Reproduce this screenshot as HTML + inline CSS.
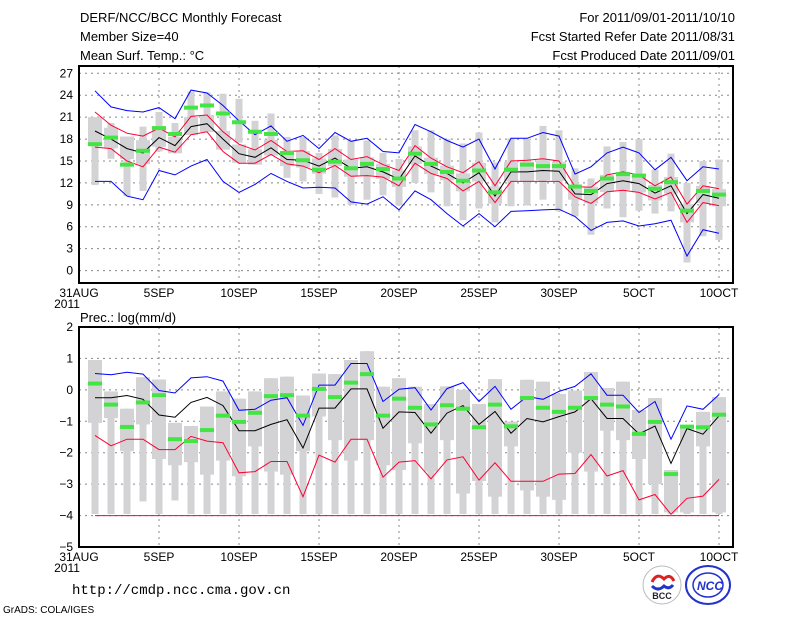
<!DOCTYPE html>
<html><head><meta charset="utf-8"><style>
html,body{margin:0;padding:0;background:#fff;width:800px;height:618px;overflow:hidden}
svg{display:block;font-family:"Liberation Sans",sans-serif}
</style></head><body>
<svg id="c" width="800" height="618" xmlns="http://www.w3.org/2000/svg">
<g font-size="13" fill="#000">
<text x="80" y="22">DERF/NCC/BCC Monthly Forecast</text>
<text x="80" y="41">Member Size=40</text>
<text x="80" y="60">Mean Surf. Temp.: °C</text>
<text x="735" y="22" text-anchor="end">For 2011/09/01-2011/10/10</text>
<text x="735" y="41" text-anchor="end">Fcst Started Refer Date 2011/08/31</text>
<text x="735" y="60" text-anchor="end">Fcst Produced Date 2011/09/01</text>
<text x="80" y="322">Prec.: log(mm/d)</text>
</g>
<text x="72" y="594" font-size="14" font-family="Liberation Mono, monospace">http://cmdp.ncc.cma.gov.cn</text>
<text x="3" y="613" font-size="10">GrADS: COLA/IGES</text>
<g>
<circle cx="662" cy="585" r="19" fill="#fff" stroke="#bbb"/>
<path d="M652 582 q5 -10 12 -3 q6 -6 10 2" stroke="#d22" stroke-width="3" fill="none"/>
<path d="M652 586 q6 6 12 0 q5 4 9 -1" stroke="#23c" stroke-width="3" fill="none"/>
<text x="662" y="599" font-size="9" font-weight="bold" text-anchor="middle" fill="#223">BCC</text>
</g>
<g>
<ellipse cx="708" cy="585" rx="22" ry="19" fill="#fff" stroke="#23c" stroke-width="2"/>
<ellipse cx="708" cy="585" rx="15" ry="12" fill="none" stroke="#23c" stroke-width="1.5"/>
<text x="710" y="590" font-size="12" font-weight="bold" font-style="italic" text-anchor="middle" fill="#23c">NCC</text>
</g>
</svg>
<script>
// ---- Temperature panel data (days 1..40 = 1SEP..10OCT)
const tMean=[19.1,18,16.7,16.1,18.2,17.1,19.7,20.1,18,16,15.5,16.8,15.2,15.1,14.3,15.4,14,14.2,13.5,12.5,15.7,14.3,13.3,12,13.4,10.2,13.5,13.5,13.7,13.6,10.5,10.4,11.9,12.3,11.9,10.6,11.6,7.8,10.4,9.9];
const tRedHi=[21.7,19.9,18.8,18.4,19.5,18.3,21.1,21.3,19,17.3,16.5,17.8,16.3,16.4,15.2,16.7,15.2,15.6,14.5,13.7,17.1,15.4,14.2,13.4,14.9,11.6,15,15.1,15.3,15,11.5,11.4,13.1,13.5,13.1,11.6,12.8,9.1,11.6,11.2];
const tRedLo=[16.9,16.7,15,14.2,16.9,16.2,18.6,19,16.3,14.7,14.7,15.9,14.6,14.3,13.4,14.4,12.9,13,12.8,11.6,14.7,13.3,12.6,10.9,12.2,9.3,12.2,12.2,12.2,12.2,10.1,9.2,10.8,11,10.7,9.8,10.7,6.6,9.3,8.9];
const tBlueHi=[24.6,22.4,21.9,21.7,22.3,20.8,24.7,24.3,22.6,20.5,18.6,19.8,17.7,18.5,16.7,18.9,17.7,18.1,16.3,16.1,20,19,17.8,16.9,18,13.9,18.1,18.1,18.9,18.4,13.2,14.2,16.1,16.9,16.1,13.8,15.5,12.3,14.2,13.9];
const tBlueLo=[12.2,12.2,10.2,9.7,13.7,13.1,14.3,15.2,12.2,10.7,11.8,13.3,12.2,11.3,11.4,11.3,9.4,9.1,10.1,8.3,10.9,9.7,7.8,6.1,7.8,6,8.1,8.2,8.3,8.4,7.4,5.5,6.6,6.8,6.1,6.4,6.9,2,5.6,5.1];
const tObs=[17.3,18.2,14.5,16.4,19.5,18.7,22.3,22.6,21.5,20.3,19,18.7,16.1,15.1,13.8,14.9,14,14.6,13.9,12.6,16,14.6,13.5,12.3,13.7,10.7,13.8,14.5,14.3,14.3,11.5,10.9,12.6,13.2,13,11.2,12.1,8.2,10.9,10.4];
const tMax=[20.3,20.2,18.1,19.7,21.7,20.2,24.5,24.4,24.2,23.5,20.5,21.5,18.3,18.3,16.1,18.5,17.8,17.8,16.1,15.3,19.2,19.2,18,17.4,18.9,14.8,18.1,18.1,19.8,19.2,14,12.6,17,17.6,18,13.8,16,12,15,15.2];
const tMin=[11.7,15.3,10.2,10.9,16.3,16.4,19.5,19.5,17.6,17.5,14.5,16.3,12.7,12.2,10.5,10,9,9.7,10.3,8.9,12,10.7,8.8,6.9,8.5,6.6,8.8,8.9,9.7,8.1,7.4,4.9,8.5,7.3,8.2,7.8,8.1,1.1,4.7,4.2];
const tTicks=[0,3,6,9,12,15,18,21,24,27];
// ---- Precipitation panel data
const pMean=[-0.25,-0.25,-0.18,-0.3,-0.8,-0.87,-0.4,-0.24,-0.5,-1.3,-1.3,-1.1,-0.95,-1.85,-0.58,-0.58,0.03,0.03,-1.22,-0.7,-0.72,-1.38,-0.74,-0.5,-1.1,-0.69,-1.38,-0.91,-1.02,-0.85,-0.7,-0.28,-0.91,-0.91,-1.4,-1.15,-2.34,-1.23,-1.41,-0.83];
const pBlue=[0.52,0.48,0.56,0.5,-0.02,-0.1,0.38,0.42,0.28,-0.65,-0.62,-0.33,-0.25,-1.13,0.15,0.15,0.84,0.84,-0.37,0.02,0.07,-0.64,0.04,0.23,-0.37,0.11,-0.62,-0.21,-0.3,-0.05,0.11,0.51,-0.17,-0.17,-0.72,-0.37,-1.57,-0.51,-0.62,-0.15];
const pRed=[-1.45,-1.78,-1.57,-1.57,-1.9,-1.9,-1.48,-1.63,-1.68,-2.64,-2.6,-2.28,-2.28,-3.4,-2.08,-2.3,-1.57,-1.57,-2.78,-2.3,-2.25,-2.83,-2.23,-2.13,-2.87,-2.32,-2.91,-2.91,-2.91,-2.68,-2.66,-2.06,-2.74,-2.57,-3.5,-3.33,-3.96,-3.45,-3.38,-2.85];
const pRedLo=[-4,-4,-4,-4,-4,-4,-4,-4,-4,-4,-4,-4,-4,-4,-4,-4,-4,-4,-4,-4,-4,-4,-4,-4,-4,-4,-4,-4,-4,-4,-4,-4,-4,-4,-4,-4,-4,-4,-4,-4];
const pObs=[0.2,-0.47,-1.18,-0.4,-0.17,-1.57,-1.63,-1.28,-0.82,-1.02,-0.73,-0.2,-0.17,-0.82,0.03,-0.23,0.23,0.5,-0.82,-0.28,-0.57,-1.1,-0.49,-0.6,-1.19,-0.47,-1.16,-0.26,-0.57,-0.7,-0.57,-0.26,-0.47,-0.53,-1.4,-1.02,-2.68,-1.17,-1.19,-0.79];
const pMax=[0.95,-0.05,-0.6,0.4,0.33,-1.05,-1.15,-0.53,-0.05,-0.28,-0.05,0.37,0.42,-0.18,0.52,0.5,0.95,1.23,0.1,0.37,0.1,-0.45,0.11,0,-0.45,0.34,-1.01,0.32,0.26,-0.13,-0.02,0.57,0.06,0.26,-0.64,-0.26,-2.55,-1.16,-0.7,-0.23];
const pQ1=[-1.05,-0.9,-1.95,-1.1,-2.2,-2.4,-2.3,-2.7,-2.25,-2.75,-1.8,-2.6,-2.7,-1.95,-0.85,-1.6,-2.25,-1.6,-2.4,-2.55,-1.7,-2.6,-1.6,-3.3,-2.9,-3.4,-1.8,-3.2,-3.4,-3.5,-2,-2.6,-1.3,-1.6,-2.2,-3,-3.9,-3.9,-1.8,-3.9];
const pMin=[-3.95,-3.95,-3.95,-3.55,-3.95,-3.52,-3.95,-3.95,-3.95,-3.95,-3.95,-3.95,-3.95,-3.95,-3.95,-3.95,-3.95,-3.95,-3.95,-3.95,-3.95,-3.95,-3.95,-3.95,-3.95,-3.95,-3.95,-3.95,-3.95,-3.95,-3.95,-3.95,-3.95,-3.95,-3.95,-3.95,-3.95,-3.95,-3.95,-3.95];
const pTicks=[-5,-4,-3,-2,-1,0,1,2];
const xTickDays=[0,5,10,15,20,25,30,35,40];
const xTickLabels=["31AUG","5SEP","10SEP","15SEP","20SEP","25SEP","30SEP","5OCT","10OCT"];

const NS="http://www.w3.org/2000/svg";
const svg=document.getElementById('c');
function mk(tag,attrs,parent){const e=document.createElementNS(NS,tag);for(const k in attrs)e.setAttribute(k,attrs[k]);(parent||svg).appendChild(e);return e;}
const X0=79,X1=733,DX=16;
function xs(d){return X0+d*DX;}

function panel(name,top,bottom,vmin,vmax,ticks){
  const g=mk('g',{});
  
  
  const ys=v=>bottom-(v-vmin)/(vmax-vmin)*(bottom-top);
  ticks.forEach(t=>{
    const yy=ys(t);
    if(yy>top+1&&yy<bottom-1){const l=mk('line',{x1:X0,x2:X1,y1:yy,y2:yy,stroke:'#888','stroke-dasharray':'2,4','stroke-width':1},g);
    
    }
    const tx=mk('text',{x:X0-6,y:yy+4,'font-size':12,'text-anchor':'end'},g);
    
    
    tx.textContent=String(t).replace('-','\u2212');
  });
  xTickDays.forEach((d,i)=>{
    const xx=xs(d);
    if(d>0){const l=mk('line',{x1:xx,x2:xx,y1:top,y2:bottom,stroke:'#888','stroke-dasharray':'2,4','stroke-width':1},g);
    
    }
    const tx=mk('text',{x:xx,y:bottom+14,'font-size':12,'text-anchor':'middle'},g);
    
    
    tx.textContent=xTickLabels[i];
  });
  const yr=mk('text',{x:xs(0)-12,y:bottom+25,'font-size':12,'text-anchor':'middle'},g);
  
  
  yr.textContent='2011';
  return {g,ys};
}
function boxes(p,hi,lo,q3,q1,name){
  for(let i=0;i<hi.length;i++){
    const x=xs(i+1);
    const r=mk('rect',{x:x-3.5,y:p.ys(hi[i]),width:7,height:Math.max(0,p.ys(lo[i])-p.ys(hi[i])),fill:'#d3d3d6'},p.g);
    
    
    const a=Math.max(q3[i],q1[i]),b=Math.min(q3[i],q1[i]);
    const w=mk('rect',{x:x-7,y:p.ys(a),width:14,height:Math.max(0,p.ys(b)-p.ys(a)),fill:'#d3d3d6'},p.g);
    
    
  }
}
function line(p,arr,color,name){
  const pts=arr.map((v,i)=>xs(i+1)+','+p.ys(v).toFixed(1)).join(' ');
  const l=mk('polyline',{points:pts,fill:'none',stroke:color,'stroke-width':1},p.g);
  
  
}
function obs(p,arr,name){
  arr.forEach((v,i)=>{
    const r=mk('rect',{x:xs(i+1)-7,y:p.ys(v)-2,width:14,height:4,fill:'#44e444'},p.g);
    
    
  });
}
function frame(p,top,bottom){
  const r=mk('rect',{x:X0,y:top,width:X1-X0,height:bottom-top,fill:'none',stroke:'#000','stroke-width':2},p.g);
  
  
}

// Temperature
const T=panel('temperature-panel',66,283,-1.7,28,tTicks);
boxes(T,tMax,tMin,tRedHi.map((v,i)=>(v+tMean[i])/2+0.6),tRedLo.map((v,i)=>(v+tMean[i])/2-0.6),'temp');
line(T,tBlueHi,'#0000ff','temp-max-line');
line(T,tBlueLo,'#0000ff','temp-min-line');
line(T,tRedHi,'#ff0033','temp-upper-line');
line(T,tRedLo,'#ff0033','temp-lower-line');
line(T,tMean,'#000','temp-ensemble-mean');
obs(T,tObs,'temp-observed-bar');
frame(T,66,283);

// Precipitation
const P=panel('precip-panel',327,547,-5,2,pTicks);
boxes(P,pMax,pMin,pMax,pQ1,'precip');
line(P,pRedLo,'#ff0033','precip-floor-line');
line(P,pBlue,'#0000ff','precip-upper-line');
line(P,pRed,'#ff0033','precip-lower-line');
line(P,pMean,'#000','precip-ensemble-mean');
obs(P,pObs,'precip-observed-bar');
frame(P,327,547);
</script>
</body></html>
